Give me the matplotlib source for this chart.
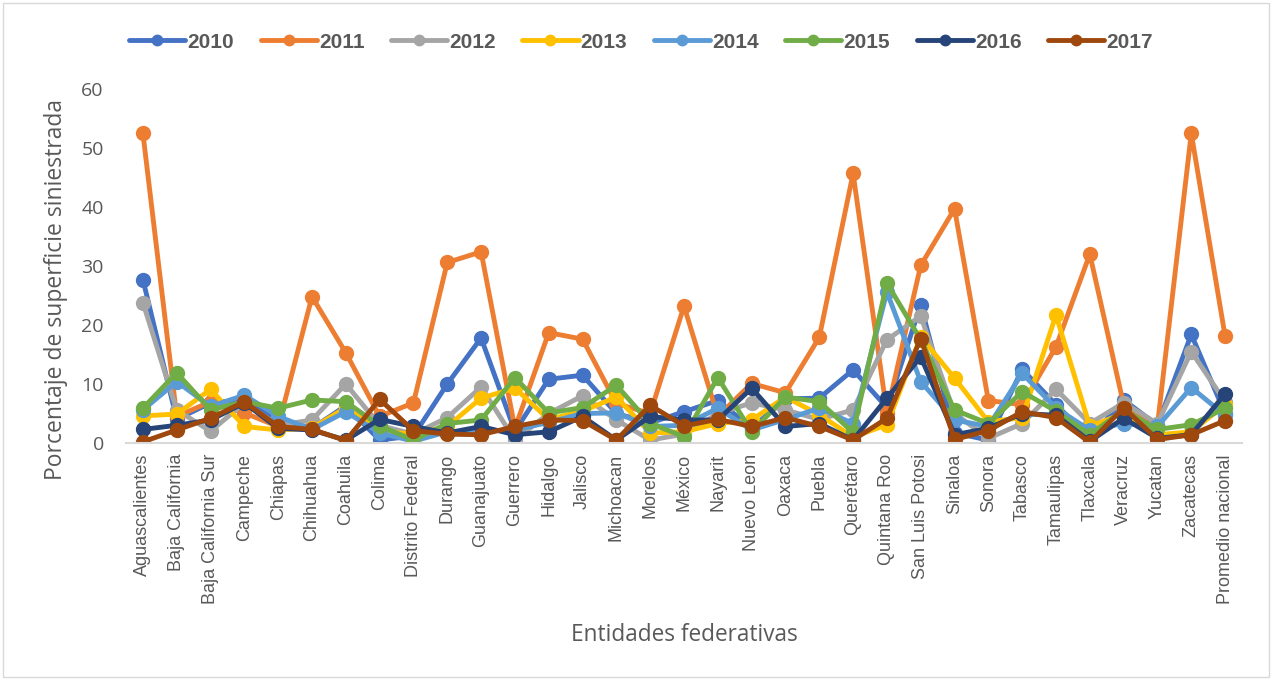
import matplotlib
matplotlib.use("Agg")
import matplotlib.pyplot as plt
from matplotlib.patches import Rectangle

entidades = ["Aguascalientes", "Baja California", "Baja California Sur", "Campeche",
             "Chiapas", "Chihuahua", "Coahuila", "Colima", "Distrito Federal",
             "Durango", "Guanajuato", "Guerrero", "Hidalgo", "Jalisco", "Michoacan",
             "Morelos", "México", "Nayarit", "Nuevo Leon", "Oaxaca", "Puebla",
             "Querétaro", "Quintana Roo", "San Luis Potosi", "Sinaloa", "Sonora",
             "Tabasco", "Tamaulipas", "Tlaxcala", "Veracruz", "Yucatan",
             "Zacatecas", "Promedio nacional"]

s2010 = [27.7, 4.0, 6.8, 7.3, 4.0, 2.5, 6.3, 0.5, 1.2, 10.0, 17.8, 2.0, 10.8, 11.5, 5.0,
         3.4, 5.3, 7.2, 2.5, 7.5, 7.6, 12.4, 6.0, 23.4, 1.7, 0.5, 12.5, 6.5, 0.8, 7.3,
         3.0, 18.4, 5.0]
s2011 = [52.5, 4.5, 7.0, 5.1, 2.8, 24.8, 15.3, 4.5, 6.8, 30.6, 32.4, 2.5, 18.7, 17.6, 6.7,
         5.0, 23.2, 4.5, 10.1, 8.5, 17.9, 45.7, 5.1, 30.1, 39.7, 7.2, 6.5, 16.3, 32.0, 6.5,
         3.0, 52.5, 18.1]
s2012 = [23.8, 5.6, 2.0, 6.8, 3.0, 3.9, 10.0, 3.0, 1.5, 4.3, 9.5, 0.5, 5.0, 8.0, 3.9,
         0.5, 1.5, 5.0, 6.8, 5.6, 4.0, 5.6, 17.5, 21.5, 5.0, 0.8, 3.3, 9.1, 3.3, 6.8,
         3.3, 15.5, 7.0]
s2013 = [4.6, 4.9, 9.1, 2.8, 2.2, 2.5, 6.0, 2.0, 1.5, 2.8, 7.6, 9.3, 4.0, 5.4, 7.8,
         1.7, 1.9, 3.3, 3.9, 7.8, 4.8, 1.0, 3.1, 18.0, 11.0, 3.6, 4.3, 21.7, 2.8, 5.0,
         1.4, 1.9, 6.5]
s2014 = [5.6, 10.4, 6.2, 8.1, 4.5, 2.3, 5.3, 1.7, 0.3, 1.9, 2.0, 2.2, 3.5, 5.0, 5.1,
         2.8, 3.0, 5.9, 2.2, 4.0, 5.9, 3.3, 25.6, 10.4, 3.9, 2.8, 11.8, 5.9, 2.2, 3.3,
         2.8, 9.4, 4.7]
s2015 = [5.9, 11.9, 5.6, 7.0, 5.9, 7.3, 7.0, 2.9, 0.5, 3.3, 3.9, 11.1, 5.1, 6.0, 9.8,
         3.3, 1.1, 11.1, 1.9, 7.8, 7.0, 1.8, 27.1, 17.5, 5.6, 3.3, 8.7, 5.4, 1.4, 5.6,
         2.3, 3.1, 5.9]
s2016 = [2.3, 3.0, 3.9, 6.8, 2.5, 2.2, 0.5, 4.0, 2.8, 1.7, 2.8, 1.4, 1.9, 4.5, 0.5,
         4.5, 3.9, 3.9, 9.3, 2.8, 3.3, 0.5, 7.6, 14.6, 1.4, 2.5, 5.0, 4.7, 0.3, 4.2,
         0.8, 1.4, 8.3]
s2017 = [0.2, 2.2, 4.2, 7.0, 2.8, 2.3, 0.4, 7.4, 2.1, 1.5, 1.4, 2.8, 3.9, 3.8, 0.5,
         6.4, 2.9, 4.0, 2.8, 4.3, 2.8, 0.5, 4.2, 17.7, 0.6, 2.1, 5.3, 4.3, 0.1, 6.0,
         0.6, 1.4, 3.8]

anios = ["2010", "2011", "2012", "2013", "2014", "2015", "2016", "2017"]
series = [s2010, s2011, s2012, s2013, s2014, s2015, s2016, s2017]
colores = ["#4472C4", "#ED7D31", "#A5A5A5", "#FFC000", "#5B9BD5", "#70AD47",
           "#264478", "#9E480E"]

gris = "#595959"
W, H = 1272, 680

fig = plt.figure(figsize=(W / 100, H / 100), dpi=100)
ax = fig.add_axes([126 / W, 1 - 443 / H, (1242 - 126) / W, (443 - 89) / H])

x = list(range(len(entidades)))
lineas = []
for anio, vals, c in zip(anios, series, colores):
    ln, = ax.plot(x, vals, color=c, lw=3.5, marker="o", ms=10, label=anio,
                  solid_joinstyle="round", solid_capstyle="round")
    lineas.append(ln)

ax.set_xlim(-0.5, len(entidades) - 0.5)
ax.set_ylim(0, 60)
ax.set_yticks(range(0, 61, 10))
ax.set_xticks(x)
ax.set_xticklabels(entidades, rotation=90, fontsize=13, color=gris,
                   family="Liberation Sans")
ax.tick_params(axis="y", labelsize=14, colors=gris, length=0, pad=16)
ax.tick_params(axis="x", length=0, pad=8)
for lab in ax.get_yticklabels():
    lab.set_family("Open Sans")

for side in ["top", "right", "left"]:
    ax.spines[side].set_visible(False)
ax.spines["bottom"].set_color("#D9D9D9")
ax.spines["bottom"].set_linewidth(1.5)

# axis titles
fig.text(56 / W, 1 - 289 / H, "Porcentaje de superficie siniestrada", fontsize=16.5,
         color=gris, rotation=90, ha="center", va="center", family="Open Sans")
fig.text(684 / W, 1 - 635 / H, "Entidades federativas", fontsize=16.3,
         color=gris, ha="center", va="center", family="Open Sans")

leg = fig.legend(handles=lineas, loc="center", ncol=8, frameon=False,
                 bbox_to_anchor=(641 / W, 1 - 42 / H),
                 prop={"weight": "bold", "size": 15, "family": "Liberation Sans"},
                 handlelength=2.7, columnspacing=1.27, handletextpad=0.1,
                 markerscale=0.75)
for t in leg.get_texts():
    t.set_color(gris)

# light frame around the chart area
fig.patches.append(Rectangle((3 / W, 3 / H), 1 - 6 / W, 1 - 6 / H,
                             transform=fig.transFigure, fill=False,
                             edgecolor="#D9D9D9", lw=1))

fig.savefig("out.png", dpi=100)
